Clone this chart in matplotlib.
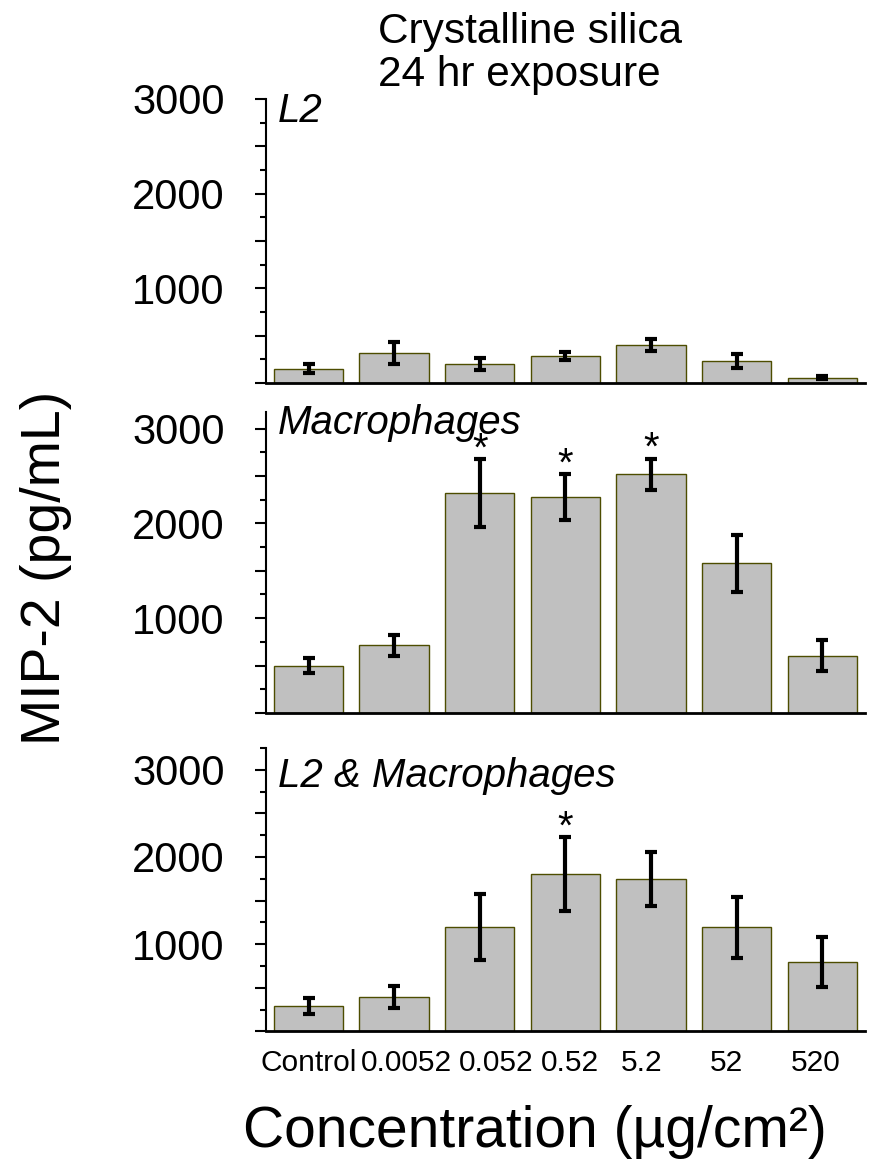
import matplotlib.pyplot as plt
import matplotlib.transforms as mtransforms
from matplotlib.ticker import MultipleLocator, FuncFormatter

plt.rcParams['font.family'] = ['Liberation Sans', 'DejaVu Sans']

# MIP-2 release after 24 hr silica exposure
concentrations = ['Control', '0.0052', '0.052', '0.52', '5.2', '52', '520']

l2_mean = [150, 320, 200, 285, 400, 230, 55]
l2_err = [50, 115, 65, 40, 60, 75, 15]
l2_stars = [False, False, False, False, False, False, False]

mac_mean = [500, 715, 2320, 2280, 2520, 1580, 605]
mac_err = [80, 110, 360, 240, 165, 300, 160]
mac_stars = [False, False, True, True, True, False, False]

co_mean = [290, 395, 1200, 1800, 1750, 1195, 795]
co_err = [95, 130, 380, 425, 310, 350, 285]
co_stars = [False, False, False, True, False, False, False]

# the concentration labels are spaced like a typed line, not centred on the bars
label_shift_pt = [0, 9, 11.5, 3, -7, -7.5, -5]

fig = plt.figure(figsize=(8.74, 11.64), dpi=100)

panels = [
    ('L2', l2_mean, l2_err, l2_stars, 3000, [0.304, 0.6710, 0.6857, 0.2440], 0.8955),
    ('Macrophages', mac_mean, mac_err, mac_stars, 3180, [0.304, 0.3875, 0.6857, 0.2589], 0.6271),
    ('L2 & Macrophages', co_mean, co_err, co_stars, 3250, [0.304, 0.1140, 0.6857, 0.2434], 0.3241),
]

xs = range(len(concentrations))

for i, (name, mean, err, stars, top, rect, label_y) in enumerate(panels):
    ax = fig.add_axes(rect)
    ax.bar(xs, mean, width=0.81, color='#c0c0c0', edgecolor='#4d4d00', linewidth=1, zorder=2)
    ax.errorbar(xs, mean, yerr=err, fmt='none', ecolor='black', elinewidth=3,
                capsize=4, capthick=3, zorder=3)
    for x, m, e, s in zip(xs, mean, err, stars):
        if s:
            ax.annotate('*', xy=(x, m + e), xytext=(0, -1), textcoords='offset points',
                        ha='center', va='baseline', fontsize=29)

    ax.set_xlim(-0.5, 6.5)
    ax.set_ylim(0, top)
    ax.spines['top'].set_visible(False)
    ax.spines['right'].set_visible(False)
    ax.spines['left'].set_linewidth(1.5)
    ax.spines['bottom'].set_linewidth(2)

    ax.yaxis.set_major_locator(MultipleLocator(500))
    ax.yaxis.set_minor_locator(MultipleLocator(250))
    ax.yaxis.set_major_formatter(FuncFormatter(lambda v, p: '%d' % v if v > 0 and v % 1000 == 0 else ''))
    ax.tick_params(axis='y', which='major', length=7.7, width=1.5, pad=22, labelsize=30)
    ax.tick_params(axis='y', which='minor', length=4.3, width=1.5)

    ax.set_xticks(list(xs))
    if i == 2:
        ax.set_xticklabels(concentrations, fontsize=21.5)
        ax.tick_params(axis='x', length=0, pad=13)
        for lab, dx in zip(ax.get_xticklabels(), label_shift_pt):
            lab.set_transform(lab.get_transform() +
                              mtransforms.ScaledTranslation(dx / 72, 0, fig.dpi_scale_trans))
    else:
        ax.set_xticklabels([])
        ax.tick_params(axis='x', length=0)

    fig.text(0.318, label_y, name, fontsize=29, style='italic', va='baseline', ha='left')

fig.text(0.4325, 0.9628, 'Crystalline silica', fontsize=30.5, va='baseline', ha='left')
fig.text(0.4325, 0.9261, '24 hr exposure', fontsize=30.5, va='baseline', ha='left')

fig.text(0.053, 0.512, 'MIP-2 (pg/mL)', fontsize=40, rotation=90, ha='center', va='center')
fig.text(0.612, 0.0149, 'Concentration (µg/cm²)', fontsize=41, ha='center', va='baseline')

fig.savefig('out.png', dpi=100)
